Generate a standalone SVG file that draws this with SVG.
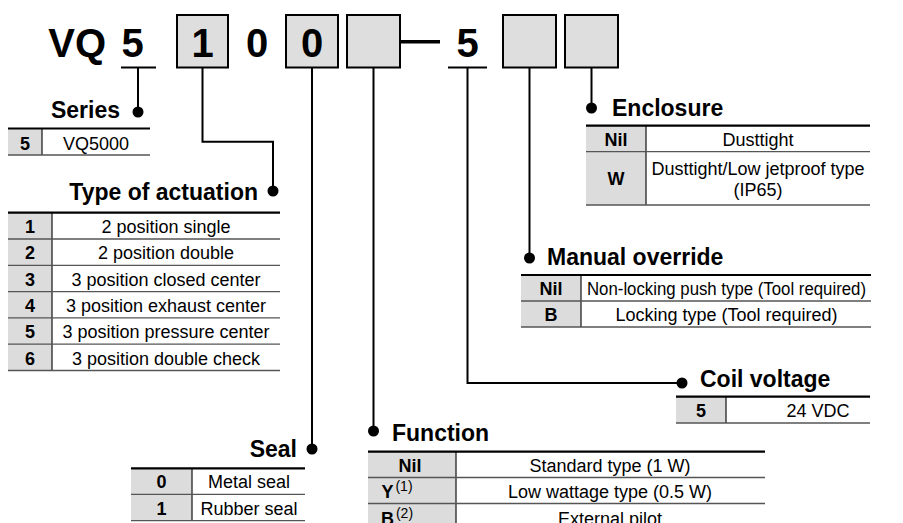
<svg xmlns="http://www.w3.org/2000/svg" width="903" height="523" viewBox="0 0 903 523">
<style>
text{font-family:"Liberation Sans",Arial,Helvetica,sans-serif;fill:#000}
.big{font-size:40px;font-weight:bold}
.hd{font-size:23px;font-weight:bold}
.k{font-size:18px;font-weight:bold;text-anchor:middle}
.v{font-size:18px;text-anchor:middle}
.sup{font-size:14px;font-weight:normal}
.box{fill:#dedede;stroke:#000;stroke-width:2}
.kbg{fill:#dcdcdc}
.top{stroke:#000;stroke-width:2.2}
.row{stroke:#555;stroke-width:1.3}
.sep{stroke:#222;stroke-width:1.3}
.conn{stroke:#000;stroke-width:2;fill:none}
.dot{fill:#000}
</style>

<g id="code">
  <text class="big" x="106" y="57" text-anchor="end">VQ</text>
  <text class="big" x="132.5" y="57" text-anchor="middle">5</text>
  <line class="conn" x1="121" y1="67.5" x2="156" y2="67.5"/>
  <rect class="box" x="177" y="15" width="51" height="52.5"/>
  <text class="big" x="202.5" y="57" text-anchor="middle">1</text>
  <text class="big" x="257" y="57" text-anchor="middle">0</text>
  <rect class="box" x="286" y="15" width="52" height="52.5"/>
  <text class="big" x="312" y="57" text-anchor="middle">0</text>
  <rect class="box" x="347" y="15" width="53" height="52.5"/>
  <line x1="401" y1="41.7" x2="440" y2="41.7" stroke="#000" stroke-width="3.5"/>
  <text class="big" x="467.5" y="57" text-anchor="middle">5</text>
  <line class="conn" x1="448" y1="67.5" x2="487" y2="67.5"/>
  <rect class="box" x="503" y="15" width="53" height="52.5"/>
  <rect class="box" x="565" y="15" width="53" height="52.5"/>
</g>

<g id="connectors">
  <path class="conn" d="M138,67.5 V112"/>
  <path class="conn" d="M202.5,67.5 V141.7 H273 V191"/>
  <path class="conn" d="M312,67.5 V449"/>
  <path class="conn" d="M373.5,67.5 V431"/>
  <path class="conn" d="M467.5,67.5 V383 H682"/>
  <path class="conn" d="M529.5,67.5 V258"/>
  <path class="conn" d="M591.5,67.5 V108"/>
  <circle class="dot" cx="138" cy="112" r="5.5"/>
  <circle class="dot" cx="273" cy="191" r="5.5"/>
  <circle class="dot" cx="312" cy="449" r="5.5"/>
  <circle class="dot" cx="373.5" cy="431" r="5.5"/>
  <circle class="dot" cx="682" cy="383" r="5.5"/>
  <circle class="dot" cx="529.5" cy="258" r="5.5"/>
  <circle class="dot" cx="591.5" cy="108" r="5.5"/>
</g>

<g id="series">
  <text class="hd" x="120" y="117.5" text-anchor="end">Series</text>
  <rect class="kbg" x="8" y="128.5" width="34" height="26.5"/>
  <line class="sep" x1="42" y1="128.5" x2="42" y2="155"/>
  <line class="row" x1="8" y1="155" x2="150" y2="155"/>
  <line class="top" x1="8" y1="128.5" x2="150" y2="128.5"/>
  <text class="k" x="25" y="150">5</text>
  <text class="v" x="96" y="150">VQ5000</text>
</g>

<g id="actuation">
  <text class="hd" x="258" y="200" text-anchor="end">Type of actuation</text>
  <rect class="kbg" x="8" y="212.7" width="44" height="157.8"/>
  <line class="sep" x1="52" y1="212.7" x2="52" y2="370.5"/>
  <line class="row" x1="8" y1="239" x2="280" y2="239"/>
  <line class="row" x1="8" y1="265.3" x2="280" y2="265.3"/>
  <line class="row" x1="8" y1="291.6" x2="280" y2="291.6"/>
  <line class="row" x1="8" y1="317.9" x2="280" y2="317.9"/>
  <line class="row" x1="8" y1="344.2" x2="280" y2="344.2"/>
  <line class="row" x1="8" y1="370.5" x2="280" y2="370.5"/>
  <line class="top" x1="8" y1="212.7" x2="280" y2="212.7"/>
  <text class="k" x="30" y="233">1</text><text class="v" x="166" y="233">2 position single</text>
  <text class="k" x="30" y="259.3">2</text><text class="v" x="166" y="259.3">2 position double</text>
  <text class="k" x="30" y="285.6">3</text><text class="v" x="166" y="285.6">3 position closed center</text>
  <text class="k" x="30" y="311.9">4</text><text class="v" x="166" y="311.9">3 position exhaust center</text>
  <text class="k" x="30" y="338.2">5</text><text class="v" x="166" y="338.2">3 position pressure center</text>
  <text class="k" x="30" y="364.5">6</text><text class="v" x="166" y="364.5">3 position double check</text>
</g>

<g id="seal">
  <text class="hd" x="297" y="457" text-anchor="end">Seal</text>
  <rect class="kbg" x="131" y="468.3" width="61" height="52.4"/>
  <line class="sep" x1="192" y1="468.3" x2="192" y2="520.7"/>
  <line class="row" x1="131" y1="494.3" x2="305" y2="494.3"/>
  <line class="row" x1="131" y1="520.7" x2="305" y2="520.7"/>
  <line class="top" x1="131" y1="468.3" x2="305" y2="468.3"/>
  <text class="k" x="161.5" y="488.3">0</text><text class="v" x="249" y="488.3">Metal seal</text>
  <text class="k" x="161.5" y="514.7">1</text><text class="v" x="249" y="514.7">Rubber seal</text>
</g>

<g id="function">
  <text class="hd" x="392" y="440.5">Function</text>
  <rect class="kbg" x="368" y="451.7" width="88" height="80"/>
  <line class="sep" x1="456" y1="451.7" x2="456" y2="531"/>
  <line class="row" x1="368" y1="477.5" x2="765" y2="477.5"/>
  <line class="row" x1="368" y1="503.5" x2="765" y2="503.5"/>
  <line class="top" x1="368" y1="451.7" x2="765" y2="451.7"/>
  <text class="k" x="410" y="471.5">Nil</text><text class="v" x="610" y="471.5">Standard type (1 W)</text>
  <text class="k" x="397" y="497.5" text-anchor="start">Y<tspan class="sup" dx="2" dy="-7">(1)</tspan></text><text class="v" x="610" y="497.5">Low wattage type (0.5 W)</text>
  <text class="k" x="397" y="524.5" text-anchor="start">B<tspan class="sup" dx="2" dy="-7">(2)</tspan></text><text class="v" x="610" y="524.5">External pilot</text>
</g>

<g id="coil">
  <text class="hd" x="700" y="387">Coil voltage</text>
  <rect class="kbg" x="676" y="396.7" width="50" height="26.3"/>
  <line class="sep" x1="726" y1="396.7" x2="726" y2="423"/>
  <line class="row" x1="676" y1="423" x2="870" y2="423"/>
  <line class="top" x1="676" y1="396.7" x2="870" y2="396.7"/>
  <text class="k" x="701" y="417">5</text><text class="v" x="818" y="417">24 VDC</text>
</g>

<g id="manual">
  <text class="hd" x="547" y="265">Manual override</text>
  <rect class="kbg" x="521" y="275" width="60" height="52"/>
  <line class="sep" x1="581" y1="275" x2="581" y2="327"/>
  <line class="row" x1="521" y1="301" x2="871" y2="301"/>
  <line class="row" x1="521" y1="327" x2="871" y2="327"/>
  <line class="top" x1="521" y1="275" x2="871" y2="275"/>
  <text class="k" x="551" y="295">Nil</text><text class="v" x="726.5" y="295" textLength="279" lengthAdjust="spacingAndGlyphs">Non-locking push type (Tool required)</text>
  <text class="k" x="551" y="321">B</text><text class="v" x="726.5" y="321">Locking type (Tool required)</text>
</g>

<g id="enclosure">
  <text class="hd" x="612" y="115.5">Enclosure</text>
  <rect class="kbg" x="586" y="125.7" width="60" height="79.3"/>
  <line class="sep" x1="646" y1="125.7" x2="646" y2="205"/>
  <line class="row" x1="586" y1="151.7" x2="870" y2="151.7"/>
  <line class="row" x1="586" y1="205" x2="870" y2="205"/>
  <line class="top" x1="586" y1="125.7" x2="870" y2="125.7"/>
  <text class="k" x="616" y="145.7">Nil</text><text class="v" x="758" y="145.7">Dusttight</text>
  <text class="k" x="616" y="185">W</text>
  <text class="v" x="758" y="175">Dusttight/Low jetproof type</text>
  <text class="v" x="758" y="196">(IP65)</text>
</g>
</svg>
